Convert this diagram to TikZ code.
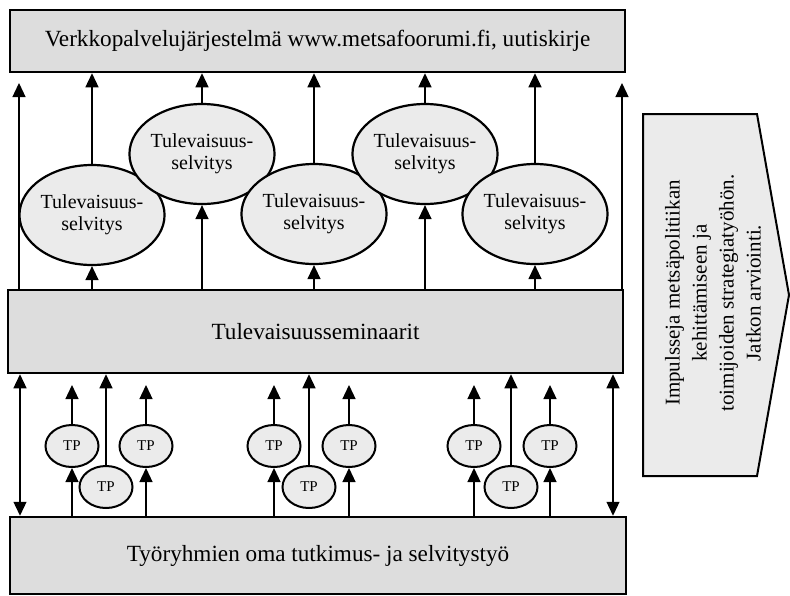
\documentclass[tikz,border=0pt]{standalone}
\usepackage{fontspec}
\setmainfont{Liberation Serif}
\usetikzlibrary{arrows.meta,shapes.geometric}
\definecolor{boxgray}{gray}{0.865}
\definecolor{ovalgray}{gray}{0.92}
\begin{document}
\begin{tikzpicture}[x=1pt,y=-1pt,>={Triangle[width=13pt,length=14pt]},
	bigbox/.style={draw,line width=2.5pt,fill=boxgray,inner sep=0pt,font=\fontsize{23.2}{27}\selectfont},
	oval/.style={draw,ellipse,line width=2.2pt,fill=ovalgray,minimum width=132pt,minimum height=100pt,inner sep=0pt,align=center,font=\fontsize{20}{22}\selectfont},
	tp/.style={draw,ellipse,line width=2pt,fill=ovalgray,minimum width=53pt,minimum height=42pt,inner sep=0pt,font=\fontsize{15}{18}\selectfont},
	link/.style={->,line width=1.3pt}]
	\useasboundingbox (0,0) rectangle (790,595);
	% boxes
	\node[bigbox,minimum width=615pt,minimum height=62pt] (W) at (317.5,41) {Verkkopalvelujärjestelmä www.metsafoorumi.fi, uutiskirje};
	\node[bigbox,minimum width=615pt,minimum height=83pt] (S) at (315.5,331.5) {Tulevaisuusseminaarit};
	\node[bigbox,minimum width=616pt,minimum height=77pt] (B) at (318,555.5) {Työryhmien oma tutkimus- ja selvitystyö};
	% selvitykset
	\node[oval] (E1) at (92,215) {Tulevaisuus-\\selvitys};
	\node[oval] (E2) at (202,154) {Tulevaisuus-\\selvitys};
	\node[oval] (E3) at (314,214) {Tulevaisuus-\\selvitys};
	\node[oval] (E4) at (425,154) {Tulevaisuus-\\selvitys};
	\node[oval] (E5) at (535,214) {Tulevaisuus-\\selvitys};
	% TP
	\node[tp] (TP1) at (72,446) {TP};
	\node[tp] (TP2) at (106,487) {TP};
	\node[tp] (TP3) at (146,446) {TP};
	\node[tp] (TP4) at (274,446) {TP};
	\node[tp] (TP5) at (309,487) {TP};
	\node[tp] (TP6) at (349,446) {TP};
	\node[tp] (TP7) at (474,446) {TP};
	\node[tp] (TP8) at (511,487) {TP};
	\node[tp] (TP9) at (550,446) {TP};
	\coordinate (L) at (19,83);
	\coordinate (R) at (622,83);
	\coordinate (DL) at (20,0);
	\coordinate (DR) at (613,0);
	\coordinate (tpend) at (0,385);
	\draw[link] (S.north -| L) -- (L);
	\draw[link] (S.north -| R) -- (R);
	\foreach \e in {E1,E2,E3,E4,E5} {
		\draw[link] (S.north -| \e) -- (\e.south);
		\draw[link] (\e.north) -- (W.south -| \e);
	}
	\draw[link,<->] (S.south -| DL) -- (B.north -| DL);
	\draw[link,<->] (S.south -| DR) -- (B.north -| DR);
	\foreach \t in {TP1,TP3,TP4,TP6,TP7,TP9} {
		\draw[link] (B.north -| \t) -- (\t.south);
		\draw[link] (\t.north) -- (tpend -| \t);
	}
	\foreach \t in {TP2,TP5,TP8}
		\draw[link] (\t.north) -- (S.south -| \t);
	% impulssit
	\draw[line width=2pt,fill=ovalgray] (643,114) -- (757,114) -- (789,295) -- (757,476) -- (643,476) -- cycle;
	\node[rotate=90,align=center,font=\fontsize{21}{27}\selectfont] (I) at (713,293) {Impulsseja metsäpolitiikan\\kehittämiseen ja\\toimijoiden strategiatyöhön.\\Jatkon arviointi.};
\end{tikzpicture}
\end{document}
